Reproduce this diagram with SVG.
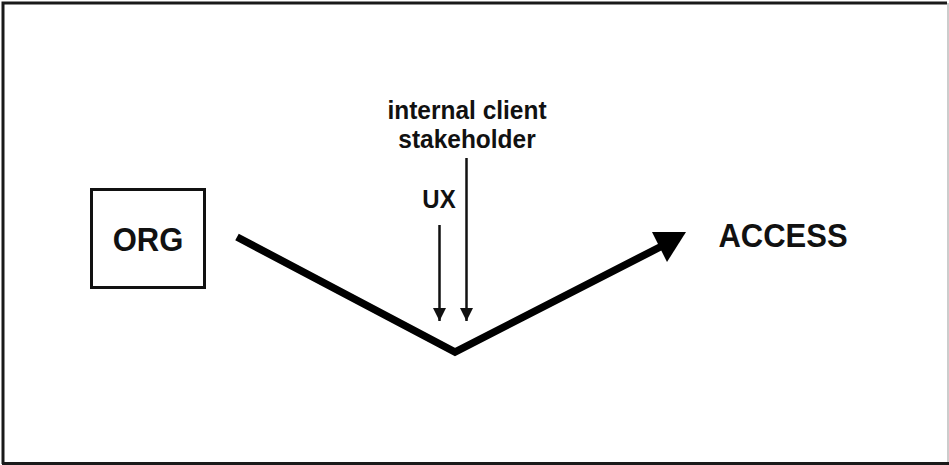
<svg xmlns="http://www.w3.org/2000/svg" width="949" height="465" viewBox="0 0 949 465">
<style>
text{font-family:"Liberation Sans",Arial,Helvetica,sans-serif;font-weight:bold;fill:#111;text-anchor:middle}
.big{font-size:31px}
.small{font-size:24px}
</style>
<defs>
<marker id="ah" viewBox="0 0 13 13" refX="13" refY="6.5" markerWidth="13" markerHeight="13" markerUnits="userSpaceOnUse" orient="auto">
<path d="M0,0 L13,6.5 L0,13 Z" fill="#111"/>
</marker>
</defs>
<rect x="0" y="0" width="949" height="465" fill="#fff"/>
<g id="frame">
<path d="M3,464 L3,3 L947,3" fill="none" stroke="#1a1a1a" stroke-width="3"/>
<path d="M948,3 L948,463" fill="none" stroke="#bbb" stroke-width="1.5"/>
<path d="M2,463.5 L949,463.5" fill="none" stroke="#1a1a1a" stroke-width="3"/>
</g>
<g id="org">
<rect x="91.5" y="189.5" width="113" height="98" fill="none" stroke="#111" stroke-width="3"/>
<text class="big" transform="translate(148,251) scale(1,1.1)">ORG</text>
</g>
<g id="access">
<text class="big" transform="translate(783,247) scale(1,1.1)">ACCESS</text>
</g>
<g id="ux">
<text class="small" transform="translate(439,208) scale(1,1.05)">UX</text>
</g>
<g id="stakeholder">
<text class="small" transform="translate(467,119) scale(1.02,1.05)">internal client</text>
<text class="small" transform="translate(467,148) scale(1.02,1.05)">stakeholder</text>
</g>
<g id="connectors">
<polyline points="237,237 455,352 664,245" fill="none" stroke="#000" stroke-width="7.5" stroke-linejoin="miter"/>
<polygon points="652,232 686,232 667,262" fill="#000"/>
<line x1="439.5" y1="225" x2="439.5" y2="321" stroke="#111" stroke-width="2.5" marker-end="url(#ah)"/>
<line x1="466.5" y1="158" x2="466.5" y2="321" stroke="#111" stroke-width="2.5" marker-end="url(#ah)"/>
</g>
</svg>
